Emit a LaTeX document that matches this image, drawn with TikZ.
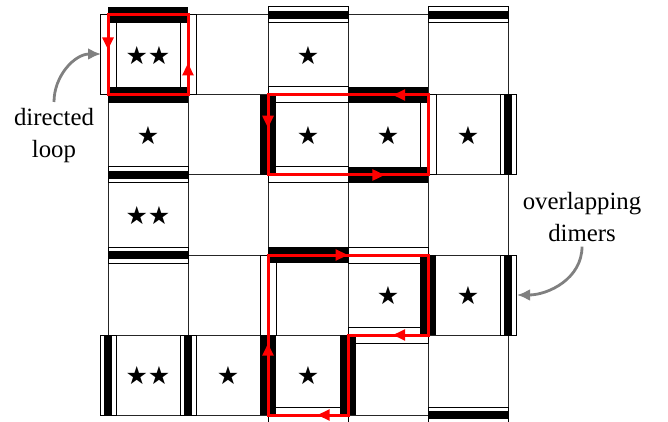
\documentclass[tikz,border=0pt]{standalone}
\usepackage{fontspec}
\setmainfont{Liberation Serif}
\newfontfamily\labfont{Liberation Serif}
\newfontfamily\starfont{DejaVu Sans}
\usetikzlibrary{arrows.meta,decorations.markings,calc}
\newcommand\dimerH[3]{\path[#1] (108+80*#2,7+80*#3) rectangle (188+80*#2,23+80*#3);}
\newcommand\dimerV[3]{\path[#1] (100+80*#2,15+80*#3) rectangle (116+80*#2,95+80*#3);}
\newcommand\dimerHboth[2]{\dimerH{dimB}{#1}{#2}\path[dimA] (108+80*#1,11+80*#2) rectangle (188+80*#1,19+80*#2);}
\newcommand\dimerVboth[2]{\dimerV{dimB}{#1}{#2}\path[dimA] (104+80*#1,15+80*#2) rectangle (112+80*#1,95+80*#2);}
\newcommand\redtip{\arrow{Triangle[length=6.2pt,width=5.4pt]}}
\begin{document}
\begin{tikzpicture}[x=0.5pt,y=-0.5pt,
  gridline/.style={line width=0.5pt,black!85},
  dimB/.style={fill=white,draw=black,line width=0.5pt},
  dimA/.style={fill=black},
  loopline/.style={red,line width=1.5pt,line join=miter,postaction={decorate},decoration={markings,#1}},
  lab/.style={font=\labfont\fontsize{12.4pt}{15.8pt}\selectfont,align=center,inner xsep=0pt},
  pointer/.style={gray,line width=1.4pt,-{Latex[length=6.5pt,width=6pt]}},
  stars/.style={inner sep=0pt,font=\starfont\fontsize{12.5pt}{12.5pt}\selectfont}]
\useasboundingbox (0,0) rectangle (668,422);
% grid points
\foreach \i in {0,...,5}{\foreach \j in {0,...,5}{\coordinate (g\i\j) at (108+80*\i,15+80*\j);}}
% grid lines
\foreach \k in {0,...,5}{\draw[gridline] (g\k0) -- (g\k5); \draw[gridline] (g0\k) -- (g5\k);}
% dimers of the second covering (white)
\dimerV{dimB}{0}{0}
\dimerV{dimB}{1}{0}
\dimerH{dimB}{2}{1}
\dimerV{dimB}{4}{1}
\dimerH{dimB}{2}{2}
\dimerH{dimB}{3}{3}
\dimerV{dimB}{2}{3}
\dimerH{dimB}{3}{4}
\dimerH{dimB}{2}{5}
% overlapping dimers
\dimerHboth{2}{0}
\dimerHboth{4}{0}
\dimerHboth{0}{2}
\dimerHboth{0}{3}
\dimerHboth{4}{5}
\dimerVboth{0}{4}
\dimerVboth{1}{4}
\dimerVboth{5}{1}
\dimerVboth{5}{3}
% dimers of the first covering (black)
\dimerH{dimA}{0}{0}
\dimerH{dimA}{0}{1}
\dimerH{dimA}{3}{1}
\dimerH{dimA}{3}{2}
\dimerH{dimA}{2}{3}
\dimerV{dimA}{2}{1}
\dimerV{dimA}{2}{4}
\dimerV{dimA}{3}{4}
\dimerV{dimA}{4}{3}
% stars
\node[stars] (s00) at (148,56) {★★};
\node[stars] (s20) at (308,56) {★};
\node[stars] (s01) at (148,136) {★};
\node[stars] (s21) at (308,136) {★};
\node[stars] (s31) at (388,136) {★};
\node[stars] (s41) at (468,136) {★};
\node[stars] (s02) at (148,216) {★★};
\node[stars] (s33) at (388,296) {★};
\node[stars] (s43) at (468,296) {★};
\node[stars] (s04) at (148,376) {★★};
\node[stars] (s14) at (228,376) {★};
\node[stars] (s24) at (308,376) {★};
% directed loops
\draw[loopline={mark=at position 0.109 with {\redtip},
  mark=at position 0.6 with {\redtip}}]
  (g00) -- (g01) -- (g11) -- (g10) -- cycle;
\draw[loopline={mark=at position 0.069 with {\redtip},
  mark=at position 0.41 with {\redtip},
  mark=at position 0.74 with {\redtip}}]
  (g21) -- (g22) -- (g42) -- (g41) -- cycle;
\draw[loopline={mark=at position 0.125 with {\redtip},
  mark=at position 0.43 with {\redtip},
  mark=at position 0.673 with {\redtip},
  mark=at position 0.862 with {\redtip}}]
  (g23) -- (g43) -- (g44) -- (g34) -- (g35) -- (g25) -- cycle;
% labels
\node[lab,inner ysep=3pt,anchor=north] (lbl1) at (54,102) {directed\\loop};
\coordinate (tip1) at (101,54);
\draw[pointer] (lbl1.north) to[out=90,in=180] (tip1);
\node[lab,inner ysep=2.5pt,anchor=south] (lbl2) at (582,246.7) {overlapping\\dimers};
\coordinate (tip2) at (517,295);
\draw[pointer] (lbl2.south) to[out=-90,in=0] (tip2);
\end{tikzpicture}
\end{document}
